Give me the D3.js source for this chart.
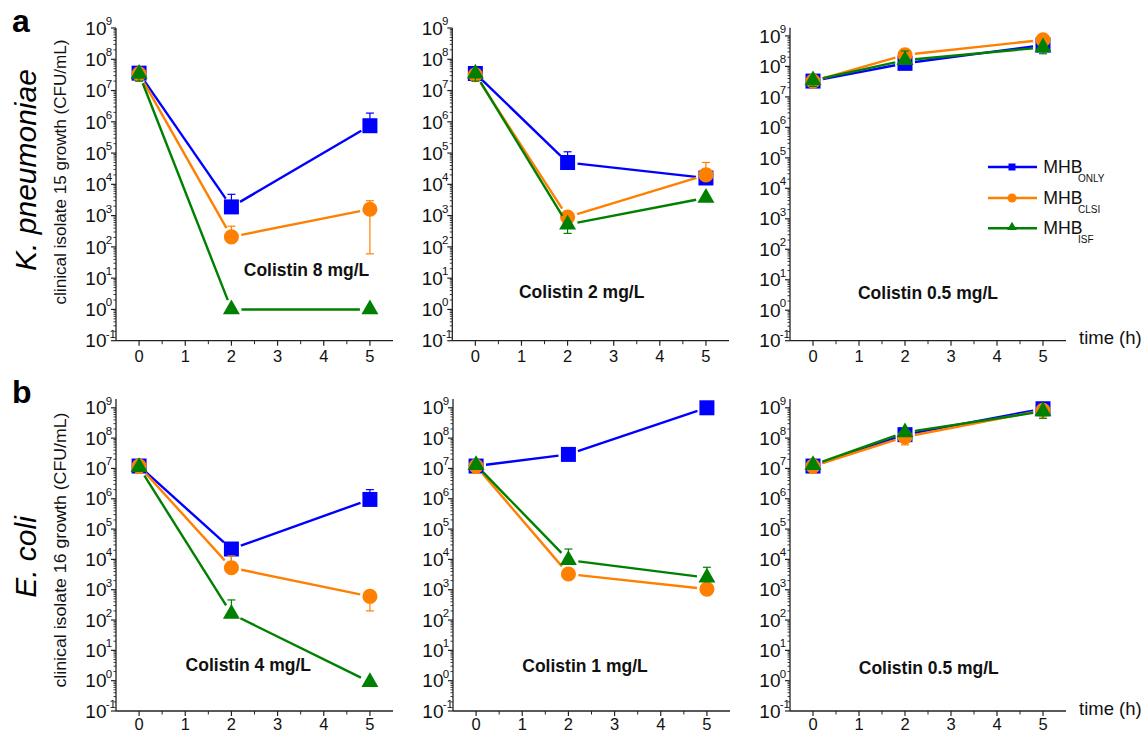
<!DOCTYPE html>
<html><head><meta charset="utf-8">
<script src="https://cdn.jsdelivr.net/npm/d3@7"></script>
<style>body{margin:0;background:#fff}svg{display:block;font-family:"Liberation Sans",Arial,Helvetica,sans-serif}</style>
</head><body><svg id="c" width="1146" height="731"></svg>
<script>
// ---------------- DATA ----------------
const times = [0, 2, 5];
const seriesNames = ["ONLY", "CLSI", "ISF"];
const seriesColors = ["#0000ff", "#ff8000", "#008000"];
const xTicks = [0, 1, 2, 3, 4, 5];
const yExponents = [-1, 0, 1, 2, 3, 4, 5, 6, 7, 8, 9];
const panelTitles = ["Colistin 8 mg/L", "Colistin 2 mg/L", "Colistin 0.5 mg/L",
                     "Colistin 4 mg/L", "Colistin 1 mg/L", "Colistin 0.5 mg/L"];
const rowSpecies = ["K. pneumoniae", "E. coli"];
const rowLetters = ["a", "b"];
const rowYLabels = ["clinical isolate 15 growth (CFU/mL)", "clinical isolate 16 growth (CFU/mL)"];

// K. pneumoniae – colistin 8 mg/L
const kp8Only = [3.6e7, 1.9e3, 7.5e5];
const kp8Clsi = [3.4e7, 2.1e2, 1.6e3];
const kp8Isf  = [3.4e7, 1, 1];
const kp8OnlyErr = [[null, null], [null, 4.8e3], [null, 1.9e6]];
const kp8ClsiErr = [[2.0e7, null], [null, 4.6e2], [60, 3.0e3]];
const kp8IsfErr  = [[2.0e7, null], [null, null], [null, null]];
// K. pneumoniae – colistin 2 mg/L
const kp2Only = [3.5e7, 5.0e4, 1.6e4];
const kp2Clsi = [3.2e7, 9.0e2, 2.0e4];
const kp2Isf  = [3.5e7, 5.2e2, 3.7e3];
const kp2OnlyErr = [[null, null], [null, 1.1e5], [null, 3.0e4]];
const kp2ClsiErr = [[2.0e7, null], [null, null], [null, 5.0e4]];
const kp2IsfErr  = [[2.0e7, null], [2.7e2, null], [null, null]];
// K. pneumoniae – colistin 0.5 mg/L
const kp05Only = [3.3e7, 1.26e8, 5.0e8];
const kp05Clsi = [3.3e7, 2.4e8, 7.4e8];
const kp05Isf  = [3.5e7, 1.6e8, 4.2e8];
const kp05OnlyErr = [[null, null], [null, null], [null, null]];
const kp05ClsiErr = [[2.2e7, null], [null, null], [null, null]];
const kp05IsfErr  = [[2.2e7, null], [null, 3.2e8], [2.6e8, null]];
// E. coli – colistin 4 mg/L
const ec4Only = [1.2e7, 2.2e4, 9.5e5];
const ec4Clsi = [1.2e7, 5.3e3, 6.0e2];
const ec4Isf  = [1.1e7, 1.6e2, 0.9];
const ec4OnlyErr = [[null, null], [8.0e3, null], [null, 2.0e6]];
const ec4ClsiErr = [[7.0e6, null], [null, 1.3e4], [2.0e2, null]];
const ec4IsfErr  = [[null, null], [null, 4.6e2], [null, null]];
// E. coli – colistin 1 mg/L
const ec1Only = [1.2e7, 2.9e7, 1.0e9];
const ec1Clsi = [1.2e7, 3.3e3, 1.05e3];
const ec1Isf  = [1.3e7, 9.5e3, 2.5e3];
const ec1OnlyErr = [[null, null], [null, null], [null, null]];
const ec1ClsiErr = [[7.0e6, null], [null, null], [null, 2.1e3]];
const ec1IsfErr  = [[null, null], [null, 2.2e4], [null, 5.5e3]];
// E. coli – colistin 0.5 mg/L
const ec05Only = [1.2e7, 1.3e8, 9.3e8];
const ec05Clsi = [1.2e7, 1.1e8, 8.3e8];
const ec05Isf  = [1.3e7, 1.55e8, 7.6e8];
const ec05OnlyErr = [[null, null], [null, null], [null, null]];
const ec05ClsiErr = [[7.0e6, null], [6.0e7, null], [null, null]];
const ec05IsfErr  = [[null, null], [null, null], [4.5e8, null]];

// ---------------- LAYOUT ----------------
const panelData = [
  [[kp8Only, kp8Clsi, kp8Isf], [kp8OnlyErr, kp8ClsiErr, kp8IsfErr]],
  [[kp2Only, kp2Clsi, kp2Isf], [kp2OnlyErr, kp2ClsiErr, kp2IsfErr]],
  [[kp05Only, kp05Clsi, kp05Isf], [kp05OnlyErr, kp05ClsiErr, kp05IsfErr]],
  [[ec4Only, ec4Clsi, ec4Isf], [ec4OnlyErr, ec4ClsiErr, ec4IsfErr]],
  [[ec1Only, ec1Clsi, ec1Isf], [ec1OnlyErr, ec1ClsiErr, ec1IsfErr]],
  [[ec05Only, ec05Clsi, ec05Isf], [ec05OnlyErr, ec05ClsiErr, ec05IsfErr]]
];
const layout = [
  {x0:116, x1:393, yb:340.7, yt:28,   top:9,    title:[306.5, 276]},
  {x0:452.3, x1:729, yb:340.7, yt:28, top:9,    title:[581.7, 297.7]},
  {x0:790, x1:1066, yb:340.7, yt:27.7, top:9.27, title:[928, 299], legend:true, time:true},
  {x0:116, x1:393, yb:711, yt:399,    top:9.29, title:[248.3, 671]},
  {x0:453, x1:730, yb:711, yt:399,    top:9.29, title:[585, 672.3]},
  {x0:790, x1:1066, yb:711, yt:399,   top:9.29, title:[928.8, 674.3], time:true}
];
const rowLayout = [
  {letterY:32, speciesY:170, labelY:172, labelLen:265},
  {letterY:403, speciesY:557, labelY:550, labelLen:275}
];

const svg = d3.select("#c");
const axisColor = "#222";
const symTypes = [d3.symbolSquare, d3.symbolCircle, d3.symbolTriangle];
const symSizes = [225, 180, 125];
const legendSizes = [49, 64, 40];

function drawPanel(i) {
  const L = layout[i];
  const [vals, errs] = panelData[i];
  const g = svg.append("g");
  const x = d3.scaleLinear().domain([-0.5, 5.5]).range([L.x0, L.x1]);
  const y = d3.scaleLog().domain([0.1, Math.pow(10, L.top)]).range([L.yb, L.yt]);

  // Y axis
  g.append("line").attr("x1", L.x0).attr("x2", L.x0).attr("y1", L.yb).attr("y2", L.yt)
    .attr("stroke", axisColor).attr("stroke-width", 1.3);
  const minor = [];
  yExponents.forEach(e => { for (let k = 2; k <= 9; k++) { const v = k * Math.pow(10, e); if (y(v) >= L.yt) minor.push(v); } });
  g.selectAll(".ymin").data(minor).join("line")
    .attr("x1", L.x0 - 2.5).attr("x2", L.x0).attr("y1", d => y(d)).attr("y2", d => y(d))
    .attr("stroke", axisColor).attr("stroke-width", 0.9);
  g.selectAll(".ymaj").data(yExponents).join("line")
    .attr("x1", L.x0 - 5).attr("x2", L.x0).attr("y1", d => y(Math.pow(10, d))).attr("y2", d => y(Math.pow(10, d)))
    .attr("stroke", axisColor).attr("stroke-width", 1.2);
  yExponents.forEach(e => {
    const yy = y(Math.pow(10, e));
    g.append("text").attr("x", L.x0 - 9.5).attr("y", yy + 6.7).attr("text-anchor", "end")
      .attr("font-size", 19).attr("fill", "#111").text("10");
    g.append("text").attr("x", L.x0 - 10.3).attr("y", yy - 3).attr("text-anchor", "start")
      .attr("font-size", 11.5).attr("fill", "#111").text(String(e));
  });

  // X axis
  g.append("line").attr("x1", L.x0).attr("x2", L.x1).attr("y1", L.yb).attr("y2", L.yb)
    .attr("stroke", axisColor).attr("stroke-width", 1.3);
  g.selectAll(".xmaj").data(xTicks).join("line")
    .attr("x1", d => x(d)).attr("x2", d => x(d)).attr("y1", L.yb).attr("y2", L.yb + 5)
    .attr("stroke", axisColor).attr("stroke-width", 1.2);
  g.selectAll(".xmin").data(xTicks.slice(0, -1).map(d => d + 0.5)).join("line")
    .attr("x1", d => x(d)).attr("x2", d => x(d)).attr("y1", L.yb).attr("y2", L.yb + 3.5)
    .attr("stroke", axisColor).attr("stroke-width", 1);
  g.selectAll(".xlab").data(xTicks).join("text")
    .attr("x", d => x(d)).attr("y", Math.min(L.yb + 21.3, 729.5)).attr("text-anchor", "middle")
    .attr("font-size", 16.5).attr("fill", "#111").text(d => d);

  // Series
  const gap = 10;
  vals.forEach((sv, s) => {
    const col = seriesColors[s];
    const pts = sv.map((v, k) => [x(times[k]), y(v)]);
    for (let k = 0; k < pts.length - 1; k++) {
      const [ax, ay] = pts[k], [bx, by] = pts[k + 1];
      const d = Math.hypot(bx - ax, by - ay);
      if (d <= 2 * gap) continue;
      const ux = (bx - ax) / d, uy = (by - ay) / d;
      g.append("line").attr("x1", ax + ux * gap).attr("y1", ay + uy * gap)
        .attr("x2", bx - ux * gap).attr("y2", by - uy * gap)
        .attr("stroke", col).attr("stroke-width", 2.4);
    }
    errs[s].forEach((e, k) => {
      const cx = x(times[k]);
      const cy = y(sv[k]);
      [e[0], e[1]].forEach(ev => {
        if (ev == null) return;
        const ey = y(ev);
        g.append("line").attr("x1", cx).attr("x2", cx).attr("y1", cy).attr("y2", ey)
          .attr("stroke", col).attr("stroke-width", 1.2);
        g.append("line").attr("x1", cx - 4).attr("x2", cx + 4).attr("y1", ey).attr("y2", ey)
          .attr("stroke", col).attr("stroke-width", 1.2);
      });
    });
    g.selectAll(".m" + s).data(sv).join("path")
      .attr("transform", (v, k) => `translate(${x(times[k])},${y(v)})`)
      .attr("d", d3.symbol().type(symTypes[s]).size(symSizes[s]))
      .attr("fill", col);
  });

  // Title
  g.append("text").attr("x", L.title[0]).attr("y", L.title[1]).attr("text-anchor", "middle")
    .attr("font-size", 17.5).attr("font-weight", "bold").attr("fill", "#111").text(panelTitles[i]);

  if (L.time) {
    g.append("text").attr("x", 1079).attr("y", L.yb + 3.6).attr("font-size", 18.5)
      .attr("fill", "#111").text("time (h)");
  }
  if (L.legend) {
    const ly = [167, 198, 228.3];
    seriesNames.forEach((nm, s) => {
      const col = seriesColors[s];
      g.append("line").attr("x1", 988).attr("x2", 1037).attr("y1", ly[s]).attr("y2", ly[s])
        .attr("stroke", col).attr("stroke-width", 2.4);
      g.append("path").attr("transform", `translate(1012,${ly[s] + (s === 2 ? -1 : 0)})`)
        .attr("d", d3.symbol().type(symTypes[s]).size(legendSizes[s])).attr("fill", col);
      g.append("text").attr("x", 1043.3).attr("y", ly[s] + 5.7).attr("font-size", 17.7)
        .attr("fill", "#111").text("MHB");
      g.append("text").attr("x", 1078).attr("y", ly[s] + 15).attr("font-size", 10)
        .attr("fill", "#111").text(nm);
    });
  }
}

layout.forEach((_, i) => drawPanel(i));

rowLayout.forEach((R, r) => {
  svg.append("text").attr("x", 12).attr("y", R.letterY).attr("font-size", 32)
    .attr("font-weight", "bold").attr("fill", "#000").text(rowLetters[r]);
  svg.append("text").attr("transform", `translate(36,${R.speciesY}) rotate(-90)`)
    .attr("text-anchor", "middle").attr("font-size", 30).attr("font-style", "italic")
    .attr("fill", "#000").text(rowSpecies[r]);
  svg.append("text").attr("transform", `translate(66,${R.labelY}) rotate(-90)`)
    .attr("text-anchor", "middle").attr("font-size", 16).attr("fill", "#111")
    .attr("textLength", R.labelLen).attr("lengthAdjust", "spacingAndGlyphs")
    .text(rowYLabels[r]);
});
</script>
</body></html>
